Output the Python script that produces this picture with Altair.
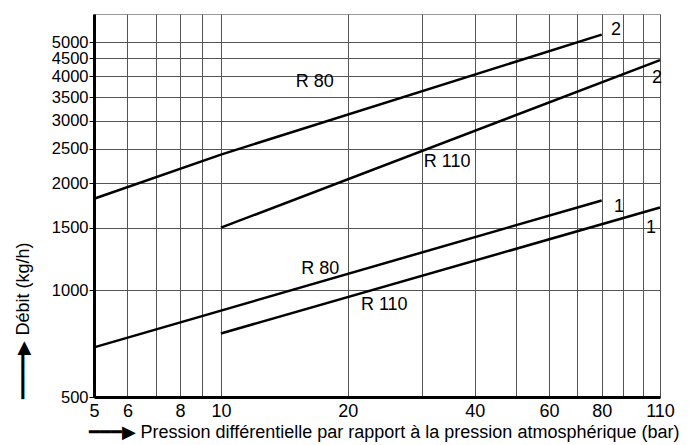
import altair as alt
import pandas as pd

# curve data (pressure in bar, flow in kg/h)
series = ["R80_2", "R80_2", "R80_2", "R110_2", "R110_2", "R80_1", "R80_1", "R110_1", "R110_1"]
pressure = [5, 10, 80, 10, 110, 5, 80, 10, 110]
flow = [1810, 2410, 5250, 1500, 4450, 690, 1790, 755, 1710]

label_text = ["R 80", "R 110", "R 80", "R 110", "2", "2", "1", "1"]
label_x = [16.7, 34.4, 17.2, 24.4, 86.5, 108.2, 87.9, 104.7]
label_y = [3860, 2297, 1147, 908, 5409, 3960, 1715, 1497]

x_grid = [5, 6, 7, 8, 9, 10, 20, 30, 40, 50, 60, 70, 80, 90, 100, 110]
x_labels = [5, 6, 8, 10, 20, 40, 60, 80, 110]
y_ticks = [500, 1000, 1500, 2000, 2500, 3000, 3500, 4000, 4500, 5000]

lines_df = pd.DataFrame({"series": series, "p": pressure, "q": flow})
labels_df = pd.DataFrame({"t": label_text, "p": label_x, "q": label_y})

FONT = "Liberation Sans"
FS = 18

xscale = alt.Scale(type="log", domain=[5, 110], nice=False)
yscale = alt.Scale(type="log", domain=[500, 6000], nice=False)

label_list = ",".join(str(v) for v in x_labels)

xaxis = alt.Axis(
    values=x_grid,
    labelExpr=f"indexof([{label_list}], datum.value) >= 0 ? datum.label : ''",
    format="d",
    grid=True,
    gridColor="#555",
    gridWidth=1,
    gridOpacity=1,
    domainColor="black",
    domainWidth=3,
    ticks=False,
    labelPadding=5,
    labelFontSize=FS,
    labelFont=FONT,
    labelColor="black",
    labelOverlap=False,
    title="━━━▶ Pression différentielle par rapport à la pression atmosphérique (bar)",
    titleFont=FONT,
    titleFontSize=FS,
    titleFontWeight="normal",
    titleColor="black",
    titleX=-6,
    titleY=35,
    titleAlign="left",
    titleBaseline="middle",
    labelFlush=False,
)

yaxis = alt.Axis(
    values=y_ticks,
    format="d",
    grid=True,
    gridColor="#555",
    gridWidth=1,
    gridOpacity=1,
    domainColor="black",
    domainWidth=3,
    tickColor="black",
    tickSize=5,
    labelPadding=1,
    labelFontSize=16.5,
    labelFont=FONT,
    labelColor="black",
    labelOverlap=False,
    title="━━━━▶ Débit (kg/h)",
    titleFont=FONT,
    titleFontSize=FS,
    titleFontWeight="normal",
    titleColor="black",
    titleAngle=270,
    titleX=-71,
    titleY=384,
    titleAlign="left",
    titleBaseline="middle",
)

lines = alt.Chart(lines_df).mark_line(color="black", strokeWidth=2.5).encode(
    x=alt.X("p:Q", scale=xscale, axis=xaxis),
    y=alt.Y("q:Q", scale=yscale, axis=yaxis),
    detail="series:N",
)

texts = alt.Chart(labels_df).mark_text(
    font=FONT, fontSize=FS, color="black", align="center", baseline="middle"
).encode(
    x=alt.X("p:Q", scale=xscale),
    y=alt.Y("q:Q", scale=yscale),
    text="t:N",
)

chart = alt.layer(lines, texts).properties(
    width=566,
    height=383,
    autosize=alt.AutoSizeParams(type="none"),
    padding={"left": 86, "top": 6, "right": 21, "bottom": 46},
    background="white",
).configure_view(stroke="#999", strokeWidth=1)

chart.save("out.html", embed_options={"renderer": "svg", "actions": False})
